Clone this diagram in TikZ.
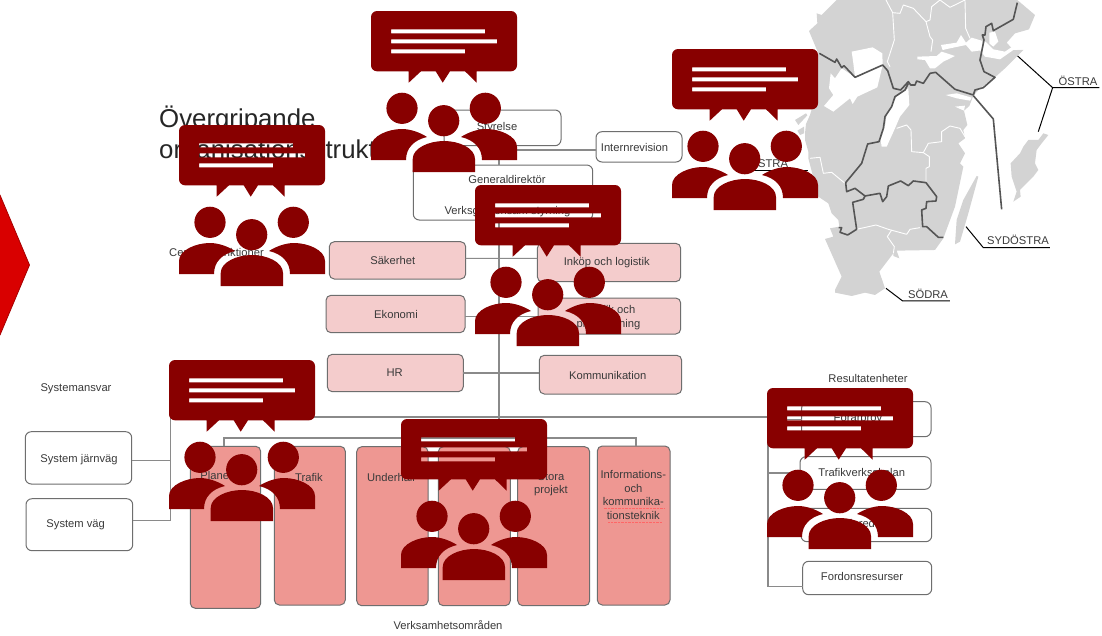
\documentclass[tikz,border=0pt]{standalone}
\usepackage{fontspec}
\setmainfont{Liberation Sans}
\definecolor{brick}{HTML}{880000}
\definecolor{txt}{HTML}{3A3A3A}
\definecolor{edge}{HTML}{6E6E6E}
\definecolor{conn}{HTML}{8A8A8A}
\definecolor{pinkf}{HTML}{F4CCCC}
\definecolor{salmon}{HTML}{EE9792}
\definecolor{mapg}{HTML}{D3D3D3}
\definecolor{mapl}{HTML}{555555}
\tikzset{
  orgwhite/.style={draw=edge,fill=white,rounded corners=6pt,line width=1pt,inner sep=0pt,outer sep=0pt},
  orgpink/.style={draw=edge,fill=pinkf,rounded corners=5pt,line width=1pt,inner sep=0pt,outer sep=0pt},
  orgsalmon/.style={draw=edge,fill=salmon,rounded corners=5pt,line width=1pt,inner sep=0pt,outer sep=0pt},
  lbl/.style={text=txt,font=\fontsize{11.2}{13.4}\selectfont,inner sep=0pt,outer sep=0pt,align=center},
  wire/.style={draw=conn,line width=1.1pt},
  countyline/.style={draw=white,line width=0.9pt,line join=round},
  regionline/.style={draw=mapl,line width=1.6pt,line join=round},
  leader/.style={draw=black,line width=1pt},
  icon/.pic={
    \fill[brick,even odd rule]
      (6,0) -- (140,0) arc[start angle=-90,end angle=0,radius=6] -- (146,54.3)
      arc[start angle=0,end angle=90,radius=6] -- (105.7,60.3) -- (105.7,71.7) -- (94,60.3)
      -- (79,60.3) -- (71.7,71.7) -- (64.7,60.3) -- (50,60.3) -- (37.7,71.7) -- (37.7,60.3)
      -- (6,60.3) arc[start angle=90,end angle=180,radius=6] -- (0,6)
      arc[start angle=180,end angle=270,radius=6] -- cycle
      (20,18.3) rectangle (114,22.3)
      (20,28.3) rectangle (126,32.3)
      (20,38.3) rectangle (94,42.3)
      (31,97.3) circle[radius=15.6]
      (114.3,97.3) circle[radius=15.6]
      (72.7,109.7) circle[radius=15.6]
      (0,149) -- (0,136) .. controls (0,125) and (17,118) .. (31,118)
        .. controls (40,118) and (50,122) .. (56,126)
        .. controls (43,129) and (35,137) .. (35,149) -- cycle
      (146,149) -- (146,136) .. controls (146,125) and (129,118) .. (115,118)
        .. controls (106,118) and (96,122) .. (90,126)
        .. controls (103,129) and (111,137) .. (111,149) -- cycle
      (41.7,161) -- (41.7,148) .. controls (41.7,137) and (58,130) .. (73,130)
        .. controls (88,130) and (104,137) .. (104,148) -- (104,161) -- cycle;
  }
}
\newcommand{\orgbox}[6]{%
  \pgfmathsetmacro\bxx{(#3+#5)/2}\pgfmathsetmacro\bxy{(#4+#6)/2}%
  \pgfmathsetmacro\bxw{#5-#3}\pgfmathsetmacro\bxh{#6-#4}%
  \node[#1,minimum width=\bxw pt,minimum height=\bxh pt] (#2) at (\bxx,\bxy) {};}
\begin{document}
\begin{tikzpicture}[x=1pt,y=-1pt]
\useasboundingbox (0,0) rectangle (1102,635);
\fill[white] (0,0) rectangle (1102,635);

% red chevron
\fill[fill=red!85!black,draw=red!65!black,line width=0.8pt] (-2,195) -- (0,195) -- (29.5,265) -- (0,335) -- (-2,335) -- cycle;

% title
\node[anchor=base west,inner sep=0pt,text=black!85,font=\fontsize{25.8}{30}\selectfont] (title1) at (159,127) {Övergripande};
\node[anchor=base west,inner sep=0pt,text=black!85,font=\fontsize{25.8}{30}\selectfont] (title2) at (159,158) {organisationsstruktur};

% map (zoom coordinates)
\begin{scope}[shift={(780,0)},x=0.3333pt,y=-0.3333pt]
\fill[mapg,line join=round]
  (170,0) -- (125,45) -- (110,40) -- (112,70) -- (87,93) -- (115,160) -- (105,230) -- (95,328)
  -- (90,345) -- (78,372) -- (75,400) -- (75,420) -- (85,455) -- (85,475) -- (115,590) -- (145,610)
  -- (155,640) -- (175,660) -- (178,680) -- (150,685) -- (160,710) -- (135,717) -- (185,830)
  -- (165,870) -- (165,878) -- (215,888) -- (255,878) -- (285,885) -- (315,865) -- (298,815)
  -- (340,760) -- (340,768) -- (358,775) -- (350,752) -- (465,750) -- (490,715) -- (525,620)
  -- (550,500) -- (540,490) -- (555,460) -- (535,430) -- (555,415) -- (550,390) -- (562,375)
  -- (552,332) -- (568,318) -- (580,287) -- (600,265) -- (645,232) -- (675,205) -- (700,180)
  -- (730,150) -- (700,150) -- (680,128) -- (705,100) -- (747,88) -- (765,45) -- (712,0) -- cycle;
% west coast islands
\fill[mapg] (45,360) -- (78,340) -- (82,346) -- (55,375) -- cycle;
\fill[mapg] (52,392) -- (72,380) -- (72,400) -- (60,405) -- cycle;
% Gotland
\fill[mapg] (805,405) -- (790,400) -- (775,420) -- (745,420) -- (730,440) -- (720,460) -- (692,490)
  -- (695,530) -- (710,575) -- (700,605) -- (722,590) -- (720,570) -- (760,530) -- (775,510)
  -- (765,490) -- (770,450) -- (785,430) -- cycle;
% Oland
\fill[mapg] (590,528) -- (595,530) -- (565,640) -- (540,725) -- (525,733) -- (530,660) -- (550,600) -- cycle;
% lakes
\fill[white] (215,155) -- (278,142) -- (307,160) -- (308,195) -- (292,262) -- (232,290) -- (218,312) -- (210,295)
  -- (160,335) -- (132,318) -- (160,285) -- (147,265) -- (152,220) -- (165,235) -- (185,205) -- (225,232) -- (220,190) -- cycle;
\fill[white] (385,265) -- (388,315) -- (360,350) -- (345,385) -- (320,440) -- (305,440)
  -- (302,420) -- (315,380) -- (320,345) -- (350,290) -- cycle;
\fill[white] (412,170) -- (470,168) -- (485,155) -- (525,168) -- (490,185) -- (465,205) -- (450,205) -- (435,180) -- (412,178) -- cycle;
\begin{scope}[shift={(450,0)}]
\fill[white] (33,135) -- (80,128) -- (93,105) -- (108,128) -- (125,113) -- (155,122) -- (160,150) -- (125,155) -- (108,135) -- (60,145) -- (38,150) -- cycle;
\fill[white] (150,150) -- (165,170) -- (210,178) -- (250,150) -- (282,148) -- (247,140) -- (225,155) -- (190,148) -- (172,130) -- (160,120) -- cycle;
\fill[white] (178,98) -- (195,95) -- (205,125) -- (190,140) -- (178,130) -- cycle;
\end{scope}
\fill[white] (497,285) -- (530,280) -- (575,293) -- (570,302) -- (530,295) -- cycle;
\fill[white] (525,320) -- (555,317) -- (552,332) -- cycle;
% county borders
\draw[countyline] (318,0) -- (338,38) -- (360,40) -- (370,15) -- (400,25) -- (438,65) -- (450,110) -- (458,120) -- (453,155);
\draw[countyline] (338,38) -- (343,120) -- (322,185) -- (330,200);
\draw[countyline] (438,65) -- (450,60) -- (455,20) -- (480,0) -- (510,22) -- (555,0) -- (557,85) -- (570,115);
\draw[countyline] (350,385) -- (380,375) -- (393,390) -- (395,455) -- (430,458) -- (448,470) -- (448,500) -- (438,505) -- (438,545);
\draw[countyline] (430,458) -- (445,430) -- (485,425) -- (485,395) -- (510,378) -- (540,385) -- (555,410);
\draw[countyline] (230,688) -- (288,675) -- (325,688) -- (380,703) -- (390,688) -- (420,683);
\draw[countyline] (335,690) -- (322,710) -- (343,740) -- (340,760);
\draw[countyline] (90,475) -- (120,472) -- (130,520) -- (155,517) -- (195,550);
% region borders
\draw[regionline] (118,160) -- (165,187) -- (170,177) -- (185,203) -- (192,197) -- (225,232) -- (308,195) -- (323,212)
  -- (340,265) -- (362,270) -- (385,245) -- (392,255) -- (405,255) -- (410,243) -- (430,250) -- (450,220) -- (467,217)
  -- (525,268) -- (580,285) -- (585,270) -- (610,263) -- (645,232) -- (612,215) -- (600,180) -- (612,120) -- (607,105)
  -- (615,105) -- (618,80) -- (635,70) -- (640,92) -- (700,58) -- (712,8);
\draw[regionline] (385,250) -- (375,270) -- (345,290) -- (335,320) -- (315,350) -- (310,385) -- (297,425) -- (263,432)
  -- (245,490) -- (197,548) -- (200,575) -- (225,565) -- (255,588) -- (300,580) -- (308,605) -- (320,590) -- (325,558)
  -- (362,543) -- (385,557) -- (400,543) -- (438,548) -- (470,590) -- (468,603) -- (440,605) -- (438,625) -- (425,630)
  -- (428,680) -- (440,680) -- (475,712) -- (490,712);
\draw[regionline] (255,588) -- (250,598) -- (218,607) -- (230,688) -- (203,705) -- (180,697) -- (185,683) -- (176,683);
\draw[regionline] (580,287) -- (640,357) -- (665,628);
% leaders
\coordinate (ostA) at (713,168); \coordinate (ostJ) at (818,263); \coordinate (ostB) at (775,395); \coordinate (ostE) at (958,263);
\coordinate (sydA) at (558,680); \coordinate (sydJ) at (610,743); \coordinate (sydE) at (810,743);
\coordinate (sodA) at (318,865); \coordinate (sodJ) at (368,903); \coordinate (sodE) at (510,903);
\draw[leader] (ostA) -- (ostJ) -- (ostE);
\draw[leader] (ostB) -- (ostJ);
\draw[leader] (sydA) -- (sydJ) -- (sydE);
\draw[leader] (sodA) -- (sodJ) -- (sodE);
\end{scope}
\node[lbl,anchor=base] (ostra) at (1078,85) {ÖSTRA};
\node[lbl,anchor=base] (sydostra) at (1018,244) {SYDÖSTRA};
\node[lbl,anchor=base] (sodra) at (928,298) {SÖDRA};
\node[lbl,anchor=base east] (vastra) at (788,167.5) {VÄSTRA};
\coordinate (vastA) at (740,170); \coordinate (vastB) at (808,170);
\draw[leader] (vastA) -- (vastB);

% boxes
\orgbox{orgwhite}{styrelse}{444}{110}{561}{145.7}
\orgbox{orgwhite}{internrev}{596}{131.7}{682}{162}
\orgbox{orgwhite}{gd}{413.3}{165}{592.7}{220}
\orgbox{orgpink}{saker}{329.3}{241.7}{465.7}{279}
\orgbox{orgpink}{ekonomi}{326}{295.3}{465}{332.7}
\orgbox{orgpink}{hr}{327.3}{354.3}{463.3}{391.7}
\orgbox{orgpink}{inkop}{537.3}{243.3}{680.7}{281.7}
\orgbox{orgpink}{juridik}{538}{298}{680.7}{334}
\orgbox{orgpink}{komm}{539.3}{355.3}{681.7}{394}
\orgbox{orgwhite}{sysj}{25.3}{431.7}{131.7}{484}
\orgbox{orgwhite}{sysv}{26}{498.7}{132.7}{550.7}
\orgbox{orgsalmon}{plan}{190.3}{446.3}{260.7}{608.3}
\orgbox{orgsalmon}{trafik}{274.3}{446.3}{345.3}{605}
\orgbox{orgsalmon}{underh}{356.7}{446.7}{428}{605.7}
\orgbox{orgsalmon}{invest}{438.3}{446.7}{510.3}{605.7}
\orgbox{orgsalmon}{stora}{517.7}{446.7}{589.7}{605.7}
\orgbox{orgsalmon}{info}{597.3}{446}{670}{605}
\orgbox{orgwhite}{forar}{801.7}{401.7}{931}{436.7}
\orgbox{orgwhite}{tvskola}{800}{456.7}{931}{489.3}
\orgbox{orgwhite}{farje}{801}{508.3}{931.7}{541.7}
\orgbox{orgwhite}{fordon}{802.7}{561.3}{931.7}{594.7}

% connectors
\coordinate (busL) at (170.3,417);
\coordinate (busR) at (768,417);
\coordinate (trunkB) at (499,438);
\coordinate (stemL) at (224,438);
\coordinate (stemR) at (636,438);
\coordinate (rvB) at (768,586.7);
\coordinate (irvOut) at ([yshift=-3.15pt]internrev.west);
\coordinate (svOut) at ([yshift=4.4pt]sysv.east);
\coordinate (sjOut) at ([yshift=-2.85pt]sysj.east);
\draw[wire] (styrelse.south -| trunkB) -- (gd.north -| trunkB);
\draw[wire] (gd.south -| trunkB) -- (trunkB);
\draw[wire] (trunkB |- irvOut) -- (irvOut);
\draw[wire] ([yshift=2pt]saker.east) -- ([yshift=4.2pt]inkop.west);
\draw[wire] ([yshift=-2.7pt]ekonomi.east) -- ([yshift=-0.7pt]juridik.west);
\draw[wire] (hr.east) -- (komm.west |- hr.east);
\draw[wire] (busL) -- (busR);
\draw[wire] (sjOut) -- (busL |- sjOut);
\draw[wire] (svOut) -- (busL |- svOut) -- (busL);
\draw[wire] (plan.north -| stemL) -- (stemL) -- (stemR) -- (info.north -| stemR);
\draw[wire] (busR) -- (rvB) -- (fordon.west |- rvB);
\draw[wire] (busR |- forar.west) -- (forar.west);
\draw[wire] (busR |- tvskola.west) -- (tvskola.west);
\draw[wire] (busR |- farje.west) -- (farje.west);

% texts
\node[lbl] (t1) at (497,128) {Styrelse};
\node[lbl] (t2) at (634.5,147) {Internrevision};
\node[lbl] (t3) at (507,179) {Generaldirektör};
\node[lbl] (t4) at (507.5,212) {Verksgemensam styrning};
\node[lbl] (t5) at (216.5,252) {Centrala funktioner};
\node[lbl] (t6) at (392.7,260) {Säkerhet};
\node[lbl] (t7) at (396,314) {Ekonomi};
\node[lbl] (t8) at (394.7,373) {HR};
\node[lbl] (t9) at (606.7,262.3) {Inköp och logistik};
\node[lbl] (t10) at (608.5,317.5) {Juridik och\\planläggning};
\node[lbl] (t11) at (607.7,375) {Kommunikation};
\node[lbl] (t12) at (76,389) {Systemansvar};
\node[lbl] (t13) at (79,460) {System järnväg};
\node[lbl] (t14) at (75.7,525) {System väg};
\node[lbl] (t15) at (224,477) {Planering};
\node[lbl] (t16) at (309,477) {Trafik};
\node[lbl] (t17) at (391,477) {Underhåll};
\node[lbl] (t18) at (474,477) {Investering};
\node[lbl,anchor=north] (t19) at (551,472.5) {Stora\\projekt};
\node[lbl,anchor=north,font=\fontsize{11.2}{13.5}\selectfont] (t20) at (633.3,470.5) {Informations-\\och\\kommunika-\\tionsteknik};
\draw[red!60,line width=0.4pt,densely dotted] (603.5,508.6) -- (665,508.6);
\draw[red!60,line width=0.4pt,densely dotted] (608,521.8) -- (662,521.8);
\node[lbl] (t21) at (448,625) {Verksamhetsområden};
\node[lbl] (t22) at (868,378) {Resultatenheter};
\node[lbl] (t23) at (858,419.3) {Förarprov};
\node[lbl] (t24) at (861.7,472.7) {Trafikverksskolan};
\node[lbl] (t25) at (865,525) {Färjerederiet};
\node[lbl] (t26) at (862,576) {Fordonsresurser};

% icons
\pic at (371,11) {icon};
\pic at (672,49) {icon};
\pic at (179,125) {icon};
\pic at (475,185) {icon};
\pic at (169,360) {icon};
\pic at (401,419) {icon};
\pic at (767,388) {icon};
\end{tikzpicture}
\end{document}
